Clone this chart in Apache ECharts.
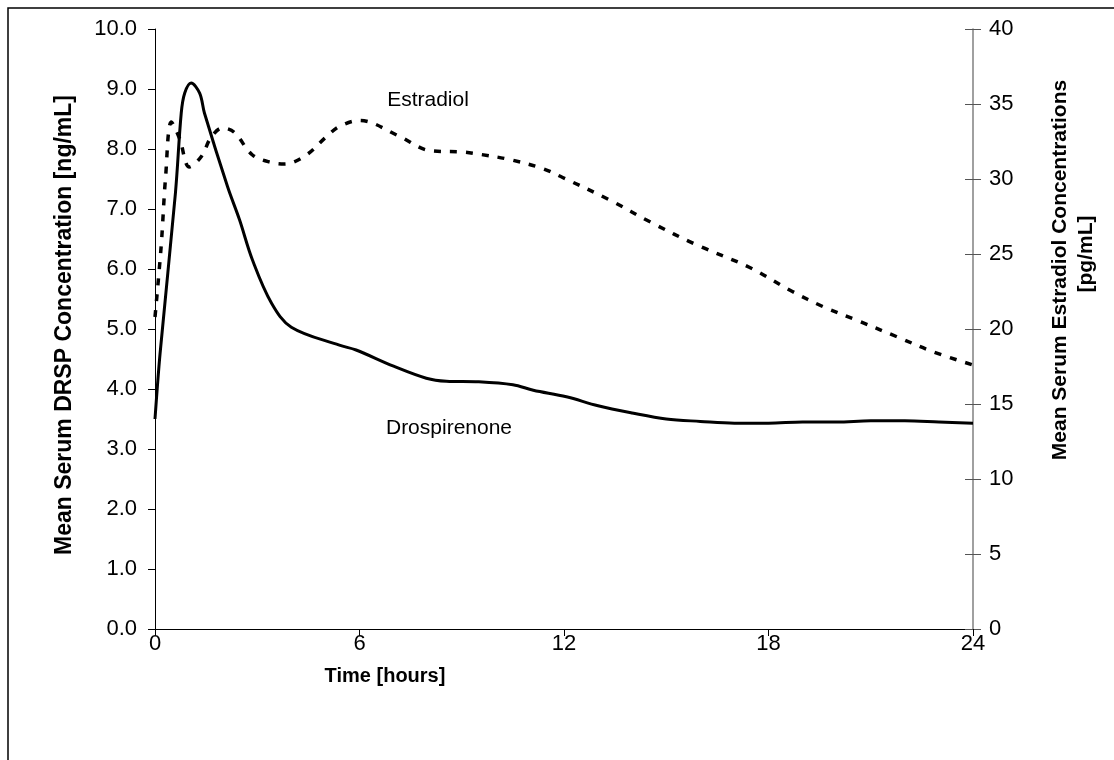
<!DOCTYPE html>
<html>
<head>
<meta charset="utf-8">
<script src="https://cdn.jsdelivr.net/npm/echarts@6/dist/echarts.min.js"></script>
<style>
  html, body { margin: 0; padding: 0; background: #fff; }
  #chart { width: 1114px; height: 760px; }
</style>
</head>
<body>
<div id="chart"></div>
<script>
// time after dose [hours] and mean serum concentrations
var drspTime = [0, 0.15, 0.6, 0.77, 0.87, 1.06, 1.31, 1.45, 2.13, 2.48, 2.86, 3.42, 4.0, 5.41, 5.9, 7, 7.96, 8.55, 9.5, 10.5, 11.1, 12.07, 13, 14, 15, 16, 17, 18, 19, 20, 21, 22, 23, 24];
var drspConc = [3.5, 4.6, 7.27, 8.6, 8.93, 9.1, 8.93, 8.6, 7.37, 6.82, 6.15, 5.43, 5.03, 4.73, 4.65, 4.38, 4.18, 4.13, 4.12, 4.07, 3.98, 3.87, 3.72, 3.6, 3.5, 3.46, 3.43, 3.43, 3.45, 3.45, 3.47, 3.47, 3.45, 3.43];

var e2Time = [0, 0.18, 0.31, 0.48, 0.72, 1.01, 1.36, 1.65, 1.98, 2.33, 2.86, 3.42, 3.8, 4.44, 5.02, 5.41, 6.0, 7.17, 8.05, 9.02, 9.52, 10.4, 11.37, 11.96, 13.34, 14.56, 15.9, 17.45, 18.7, 19.59, 20.57, 21.75, 22.81, 24];
var e2Conc = [20.8, 25.5, 30.1, 33.8, 32.7, 30.8, 31.5, 32.8, 33.4, 33.1, 31.6, 31.1, 31.0, 31.6, 32.8, 33.5, 33.9, 32.85, 31.9, 31.8, 31.65, 31.3, 30.7, 30.1, 28.6, 27.1, 25.6, 24.1, 22.5, 21.5, 20.6, 19.5, 18.5, 17.6];

var seriesNames = ['Drospirenone', 'Estradiol'];

function pairs(xs, ys) {
    return xs.map(function (x, i) { return [x, ys[i]]; });
}

var font = 'Liberation Sans, Arial, sans-serif';
var myChart = echarts.init(document.getElementById('chart'));

var option = {
    backgroundColor: '#fff',
    animation: false,
    grid: { left: 155, right: 141, top: 29, bottom: 131 },
    xAxis: {
        type: 'value',
        min: 0, max: 24, interval: 6,
        splitLine: { show: false },
        axisLine: { lineStyle: { color: '#000', width: 1 } },
        axisTick: { length: 7, lineStyle: { color: '#000' } },
        axisLabel: { color: '#000', fontFamily: font, fontSize: 22, margin: 4 }
    },
    yAxis: [
        {
            type: 'value',
            min: 0, max: 10, interval: 1,
            position: 'left',
            splitLine: { show: false },
            axisLine: { show: true, lineStyle: { color: '#000', width: 1 } },
            axisTick: { show: true, length: 7, lineStyle: { color: '#000' } },
            axisLabel: {
                color: '#000', fontFamily: font, fontSize: 22, margin: 18,
                formatter: function (v) { return v.toFixed(1); }
            }
        },
        {
            type: 'value',
            min: 0, max: 40, interval: 5,
            position: 'right',
            splitLine: { show: false },
            axisLine: { show: true, lineStyle: { color: '#808080', width: 1.5 } },
            axisTick: { show: true, length: 8, lineStyle: { color: '#555' } },
            axisLabel: { color: '#000', fontFamily: font, fontSize: 22, margin: 16 }
        },
        {
            // inner half of the crossing ticks on the right axis
            type: 'value',
            min: 0, max: 40, interval: 5,
            position: 'right',
            splitLine: { show: false },
            axisLine: { show: false },
            axisTick: { show: true, inside: true, length: 8, lineStyle: { color: '#555' } },
            axisLabel: { show: false }
        }
    ],
    series: [
        {
            name: seriesNames[0],
            type: 'line',
            yAxisIndex: 0,
            smooth: 0.35,
            symbol: 'none',
            lineStyle: { color: '#000', width: 3 },
            data: pairs(drspTime, drspConc)
        },
        {
            name: seriesNames[1],
            type: 'line',
            yAxisIndex: 1,
            smooth: 0.35,
            symbol: 'none',
            lineStyle: { color: '#000', width: 3.5, type: [7, 9] },
            data: pairs(e2Time, e2Conc)
        }
    ],
    graphic: [
        {
            type: 'rect', silent: true,
            shape: { x: 8, y: 8, width: 1300, height: 900 },
            style: { fill: 'none', stroke: '#000', lineWidth: 1.5 }
        },
        {
            type: 'text', x: 65, y: 325, rotation: Math.PI / 2,
            style: {
                text: 'Mean Serum DRSP Concentration [ng/mL]',
                font: 'bold 23px ' + font, fill: '#000', align: 'center', verticalAlign: 'middle'
            }
        },
        {
            type: 'text', x: 1060, y: 270, rotation: Math.PI / 2,
            style: {
                text: 'Mean Serum Estradiol Concentrations',
                font: 'bold 21px ' + font, fill: '#000', align: 'center', verticalAlign: 'middle'
            }
        },
        {
            type: 'text', x: 1086, y: 254, rotation: Math.PI / 2,
            style: {
                text: '[pg/mL]',
                font: 'bold 21px ' + font, fill: '#000', align: 'center', verticalAlign: 'middle'
            }
        },
        {
            type: 'text', x: 385, y: 676,
            style: {
                text: 'Time [hours]',
                font: 'bold 20px ' + font, fill: '#000', align: 'center', verticalAlign: 'middle'
            }
        },
        {
            type: 'text', x: 428, y: 100,
            style: {
                text: seriesNames[1],
                font: '21px ' + font, fill: '#000', align: 'center', verticalAlign: 'middle'
            }
        },
        {
            type: 'text', x: 449, y: 428,
            style: {
                text: seriesNames[0],
                font: '21px ' + font, fill: '#000', align: 'center', verticalAlign: 'middle'
            }
        }
    ]
};

myChart.setOption(option);
</script>
</body>
</html>
